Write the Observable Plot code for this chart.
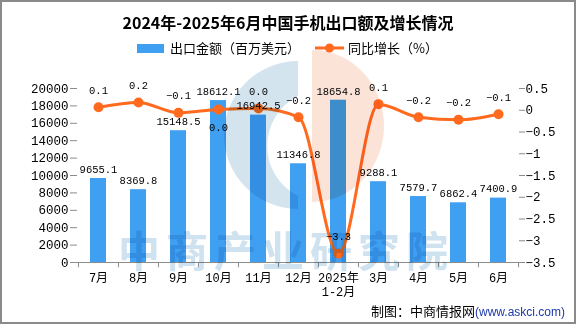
<!DOCTYPE html>
<html>
<head>
<meta charset="utf-8">
<script src="https://cdn.jsdelivr.net/npm/d3@7"></script>
<script src="https://cdn.jsdelivr.net/npm/@observablehq/plot@0.6"></script>
<style>
  html, body { margin: 0; padding: 0; background: #fff; }
  #wrap { position: relative; width: 576px; height: 324px; overflow: hidden; background: #fff; font-family: "Noto Sans CJK SC", sans-serif; }
  #chart { position: absolute; left: 0; top: 0; }
  #title { position: absolute; left: 0; width: 576px; top: 10px; text-align: center; font-size: 16px; font-weight: bold; color: #000; line-height: 24px; }
  .leg { position: absolute; top: 39px; font-size: 13px; line-height: 18px; color: #000; }
  #footer { position: absolute; right: 11px; top: 302px; font-size: 13px; line-height: 18px; color: #000; }
  #footer span { color: #1c3aa6; font-family: "Liberation Sans", sans-serif; font-size: 12px; }
  #wm { position: absolute; left: 0; top: 0; mix-blend-mode: multiply; pointer-events: none; }
  #border { position: absolute; left: 0; top: 0; width: 576px; height: 324px; box-sizing: border-box; border: 2px solid #8a8a8a; pointer-events: none; }
</style>
</head>
<body>
<div id="wrap">
  <div id="chart"></div>
  <svg id="wm" width="576" height="324">
    <path d="M298,61 A74,74 0 0 0 298,209 L298,196 A56,56 0 0 1 298,96 Z" fill="#d3e4ef"/>
    <path d="M312,50 A72,76 0 0 1 312,202 Z" fill="#fbe3d8"/>
    <text x="118" y="267" font-size="42" font-weight="bold" letter-spacing="6" fill="#cfe2ef" font-family="Noto Sans CJK SC">中商产业研究院</text>
  </svg>
  <div id="title">2024年-2025年6月中国手机出口额及增长情况</div>
  <div class="leg" style="left:137px;"><span style="display:inline-block;width:27px;height:9px;background:#3f9ff0;vertical-align:middle;margin-right:6px;position:relative;top:-1px;"></span>出口金额（百万美元）</div>
  <div class="leg" style="left:315px;"><svg width="29" height="10" style="vertical-align:middle;margin-right:4px;position:relative;top:-1px;"><line x1="0" x2="29" y1="5" y2="5" stroke="#ff6a1f" stroke-width="3"/><circle cx="14.5" cy="5" r="4.5" fill="#ff6a1f"/></svg>同比增长（%）</div>
  <div id="footer">制图：中商情报网<span>(www.askci.com)</span></div>
  <div id="border"></div>
</div>
<script>
// ---- data ----
const months = ["7月", "8月", "9月", "10月", "11月", "12月", "2025年\n1-2月", "3月", "4月", "5月", "6月"];
const exportValues = [9655.1, 8369.8, 15148.5, 18612.1, 16942.5, 11346.8, 18654.8, 9288.1, 7579.7, 6862.4, 7400.9];
const growthValues = [0.07, 0.18, -0.06, 0.02, 0.04, -0.16, -3.3, 0.14, -0.16, -0.22, -0.09];
const leftTicks = [0, 2000, 4000, 6000, 8000, 10000, 12000, 14000, 16000, 18000, 20000];
const rightTicks = [0.5, 0, -0.5, -1, -1.5, -2, -2.5, -3, -3.5];

// ---- layout / scales ----
const W = 576, H = 324, ML = 77, MR = 58, MT = 88, MB = 62;
const plotH = H - MT - MB;
const leftMax = 20000, rMin = -3.5, rMax = 0.5;
const toLeft = v => (v - rMin) / (rMax - rMin) * leftMax;
const fromLeft = y => y / leftMax * (rMax - rMin) + rMin;
const bw = (W - ML - MR) / months.length;
const minus = s => s.replace("-", "−");

const rows = months.map((m, i) => ({month: m, value: exportValues[i], growth: growthValues[i]}));
// a growth label goes below its point when it would collide with the bar's label
const collides = d => Math.abs((d.value - toLeft(d.growth)) / leftMax * plotH - 8) < 10;

const BAR = "#3f9ff0", LINE = "#ff6a1f", AXIS = "#8c8c8c";
const MONO = "'Liberation Mono', 'Noto Sans CJK SC', monospace";

const chart = Plot.plot({
  width: W, height: H,
  marginLeft: ML, marginRight: MR, marginTop: MT, marginBottom: MB,
  style: {background: "transparent", fontFamily: MONO, overflow: "visible"},
  x: {domain: months, type: "band", padding: 0, label: null},
  y: {domain: [0, leftMax], label: null},
  marks: [
    Plot.barY(rows, {x: "month", y: "value", fill: BAR, insetLeft: 12, insetRight: 12}),
    Plot.ruleY([0], {stroke: AXIS}),
    Plot.axisX({tickSize: 0, tickPadding: 9, fontSize: 12, fill: "#000", lineHeight: 1.2, label: null}),
    Plot.ruleX(months, {dx: -bw / 2, y1: 0, y2: -600, stroke: AXIS}),
    Plot.ruleX([months[months.length - 1]], {dx: bw / 2, y1: 0, y2: -600, stroke: AXIS}),
    Plot.axisY(leftTicks, {anchor: "left", tickSize: 7, tickPadding: 2, line: true, stroke: AXIS, fill: "#000", fontSize: 12.5, label: null, tickFormat: d => String(d)}),
    Plot.axisY(rightTicks.map(toLeft), {anchor: "right", tickSize: 6, tickPadding: 1, line: true, stroke: AXIS, fill: "#000", fontSize: 12.5, label: null, tickFormat: d => minus(String(Math.round(fromLeft(d) * 10) / 10))}),
    Plot.line(rows, {x: "month", y: d => toLeft(d.growth), stroke: LINE, strokeWidth: 3, curve: "monotone-x"}),
    Plot.dot(rows, {x: "month", y: d => toLeft(d.growth), r: 5, fill: LINE}),
    Plot.text(rows, {x: "month", y: "value", text: d => d.value.toFixed(1), dy: -9, fontSize: 10.5, fill: "#000"}),
    Plot.text(rows, {filter: d => !collides(d), x: "month", y: d => toLeft(d.growth), text: d => minus(d.growth.toFixed(1)), dy: -17, fontSize: 10.5, fill: "#000"}),
    Plot.text(rows, {filter: d => collides(d), x: "month", y: d => toLeft(d.growth), text: d => minus(d.growth.toFixed(1)), dy: 18, fontSize: 10.5, fill: "#000"})
  ]
});
document.getElementById("chart").appendChild(chart);
</script>
</body>
</html>
